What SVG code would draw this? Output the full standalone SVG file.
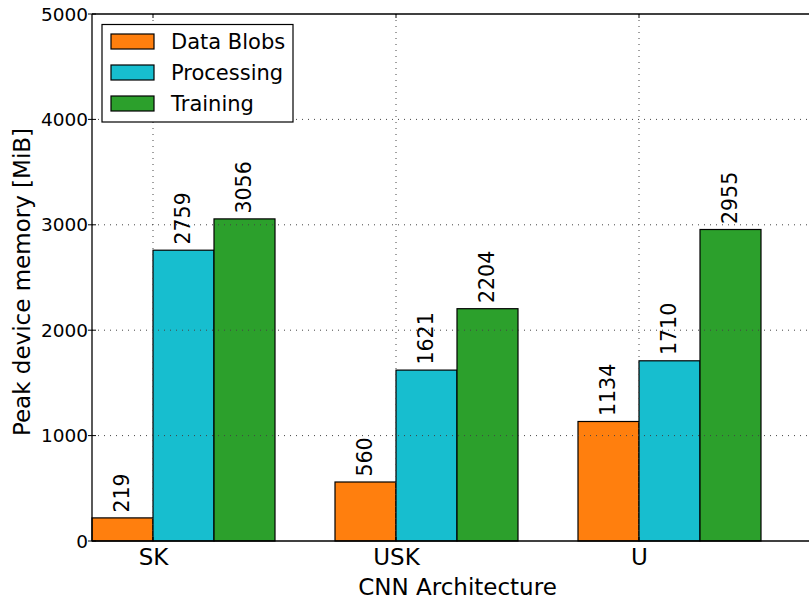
<svg xmlns="http://www.w3.org/2000/svg" width="809" height="603" viewBox="0 0 809 603">
<style>
text{font-family:"DejaVu Sans","Liberation Sans",sans-serif;fill:#000}
.bar{stroke:#000;stroke-width:1.2}
.o{fill:#ff7f0e}.c{fill:#17becf}.g{fill:#2ca02c}
.grid{stroke:#444;stroke-width:1;stroke-dasharray:1 5;fill:none}
.spine{stroke:#000;stroke-width:1.3;fill:none}
.tick{stroke:#000;stroke-width:1}
.yt{font-size:18.5px;text-anchor:end}
.xt{font-size:23px;text-anchor:middle}
.bl{font-size:20.5px}
.lg{font-size:21px}
</style>
<rect width="809" height="603" fill="#fff"/>
<g id="bars">
<rect class="bar o" x="92" y="517.9" width="61" height="23.1"/>
<rect class="bar c" x="153" y="250.2" width="61" height="290.8"/>
<rect class="bar g" x="214" y="218.9" width="61" height="322.1"/>
<rect class="bar o" x="335" y="482" width="61" height="59"/>
<rect class="bar c" x="396" y="370.1" width="61" height="170.9"/>
<rect class="bar g" x="457" y="308.7" width="61" height="232.3"/>
<rect class="bar o" x="578" y="421.5" width="61" height="119.5"/>
<rect class="bar c" x="639" y="360.8" width="61" height="180.2"/>
<rect class="bar g" x="700" y="229.5" width="61" height="311.5"/>
</g>
<g id="grid">
<line class="grid" x1="153" y1="14" x2="153" y2="541"/>
<line class="grid" x1="396" y1="14" x2="396" y2="541"/>
<line class="grid" x1="639" y1="14" x2="639" y2="541"/>
<line class="grid" x1="92" y1="119.4" x2="809" y2="119.4"/>
<line class="grid" x1="92" y1="224.8" x2="809" y2="224.8"/>
<line class="grid" x1="92" y1="330.2" x2="809" y2="330.2"/>
<line class="grid" x1="92" y1="435.6" x2="809" y2="435.6"/>
</g>
<g id="bar-labels" class="bl">
<text transform="translate(128.5,512.5) rotate(-90)">219</text>
<text transform="translate(189.5,244.5) rotate(-90)">2759</text>
<text transform="translate(250.5,213.5) rotate(-90)">3056</text>
<text transform="translate(371.5,476.5) rotate(-90)">560</text>
<text transform="translate(432.5,364.5) rotate(-90)">1621</text>
<text transform="translate(493.5,303) rotate(-90)">2204</text>
<text transform="translate(614.5,416) rotate(-90)">1134</text>
<text transform="translate(675.5,355) rotate(-90)">1710</text>
<text transform="translate(736.5,224) rotate(-90)">2955</text>
</g>
<g id="axes">
<line class="spine" x1="92" y1="14" x2="809" y2="14"/>
<line class="spine" x1="92" y1="541" x2="809" y2="541"/>
<line class="spine" x1="92" y1="14" x2="92" y2="541"/>
<path class="tick" d="M88,14H96M88,119.4H96M88,224.8H96M88,330.2H96M88,435.6H96M88,541H96"/>
<path class="tick" d="M153,541V537M396,541V537M639,541V537M153,14V18M396,14V18M639,14V18"/>
</g>
<g id="y-ticks" class="yt">
<text x="88" y="20.5">5000</text>
<text x="88" y="125.9">4000</text>
<text x="88" y="231.3">3000</text>
<text x="88" y="336.7">2000</text>
<text x="88" y="442.1">1000</text>
<text x="88" y="547.5">0</text>
</g>
<g id="x-ticks" class="xt">
<text x="153.5" y="565">SK</text>
<text x="396.5" y="565">USK</text>
<text x="639.5" y="565">U</text>
</g>
<text id="x-label" x="457.5" y="595" font-size="23" text-anchor="middle">CNN Architecture</text>
<text id="y-label" transform="translate(29.5,282) rotate(-90)" font-size="23" text-anchor="middle">Peak device memory [MiB]</text>
<g id="legend">
<rect x="102" y="24.5" width="191" height="97.5" fill="#fff" stroke="#000" stroke-width="1.2"/>
<rect class="bar o" x="111" y="34" width="43" height="15"/>
<rect class="bar c" x="111" y="65" width="43" height="15"/>
<rect class="bar g" x="111" y="96" width="43" height="15"/>
<text class="lg" x="171" y="49">Data Blobs</text>
<text class="lg" x="171" y="80">Processing</text>
<text class="lg" x="171" y="111">Training</text>
</g>
</svg>
